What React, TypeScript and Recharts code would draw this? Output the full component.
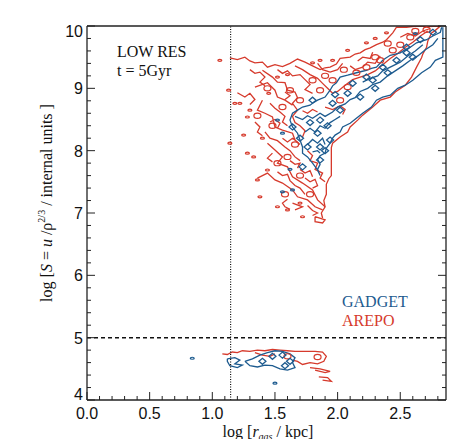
import React from "react";
import {
  ComposedChart,
  Line,
  Scatter,
  XAxis,
  YAxis,
  ReferenceLine,
} from "recharts";

type Pt = [number, number] | null;

// axis ticks (minor + major)
const xTicks = [
  0.0, 0.1, 0.2, 0.3, 0.4, 0.5, 0.6, 0.7, 0.8, 0.9, 1.0, 1.1, 1.2, 1.3, 1.4,
  1.5, 1.6, 1.7, 1.8, 1.9, 2.0, 2.1, 2.2, 2.3, 2.4, 2.5, 2.6, 2.7, 2.8,
];
const yTicks = [
  4.0, 4.2, 4.4, 4.6, 4.8, 5.0, 5.2, 5.4, 5.6, 5.8, 6.0, 6.2, 6.4, 6.6, 6.8,
  7.0, 7.2, 7.4, 7.6, 7.8, 8.0, 8.2, 8.4, 8.6, 8.8, 9.0, 9.2, 9.4, 9.6, 9.8,
  10.0,
];
const xMajor = [0.0, 0.5, 1.0, 1.5, 2.0, 2.5];
const yMajor = [4, 5, 6, 7, 8, 9, 10];

const R_CUT = 1.146; // log 14 kpc
const S_FLOOR = 5;

// AREPO contours, upper branch
const arepoEdge: Pt[] = [
  [1.14, 9.49], [1.2, 9.46], [1.26, 9.5], [1.3, 9.44], [1.34, 9.41], [1.4, 9.42],
  [1.44, 9.34], [1.5, 9.38], [1.56, 9.35], [1.62, 9.4], [1.68, 9.47], [1.74, 9.42],
  [1.8, 9.36], [1.86, 9.3], [1.9, 9.33], [1.94, 9.34], [1.99, 9.39], [2.02, 9.48],
  [2.1, 9.5], [2.14, 9.55], [2.18, 9.57], [2.22, 9.62], [2.26, 9.65], [2.31, 9.7],
  [2.36, 9.74], [2.39, 9.78], [2.44, 9.89], [2.47, 9.98], [2.55, 9.98], [2.63, 10.0],
  [2.72, 9.99], [2.82, 10.0], [2.78, 9.93], [2.75, 9.89], [2.72, 9.76], [2.71, 9.66],
  [2.68, 9.55], [2.67, 9.49], [2.63, 9.34], [2.59, 9.18], [2.54, 9.05], [2.46, 8.94],
  [2.42, 8.86], [2.34, 8.81], [2.28, 8.7], [2.2, 8.57], [2.16, 8.49], [2.1, 8.38],
  [2.08, 8.3], [2.02, 8.22], [1.96, 8.12], [1.95, 8.05], [1.95, 7.6], [1.93, 7.55],
  [1.91, 7.46], [1.91, 7.3], [1.89, 7.2], [1.9, 7.1], [1.87, 7.0], [1.88, 6.92],
];
const arepoInner: Pt[] = [
  [1.4, 9.29], [1.48, 9.18], [1.52, 9.1], [1.58, 9.09], [1.6, 8.97], [1.66, 8.94],
  [1.68, 8.85], [1.64, 8.76], [1.68, 8.65], [1.64, 8.55], [1.66, 8.45], [1.7, 8.4],
  [1.74, 8.32], [1.72, 8.22], null,
  [1.34, 9.02], [1.44, 9.09], [1.5, 8.97], [1.52, 8.86], [1.58, 8.81], [1.64, 8.73], null,
  [1.4, 8.81], [1.36, 8.65], [1.42, 8.6], [1.48, 8.54], [1.5, 8.38], [1.56, 8.33],
  [1.64, 8.28], [1.66, 8.17], [1.7, 8.1], null,
  [1.44, 8.12], [1.5, 8.01], [1.56, 7.9], [1.52, 7.8], [1.6, 7.74], [1.64, 7.58],
  [1.72, 7.48], [1.8, 7.37], [1.84, 7.21], [1.9, 7.1], null,
  [1.36, 7.56], [1.44, 7.64], [1.5, 7.53], [1.56, 7.48], [1.64, 7.37], [1.68, 7.26],
  [1.76, 7.21], [1.82, 7.1], [1.88, 7.05], null,
  [1.82, 6.94], [1.9, 6.89], [1.88, 6.84], [1.82, 6.86], [1.82, 6.94], null,
  [1.64, 7.16], [1.72, 7.1], [1.66, 7.05], null,
  [1.2, 8.93], [1.26, 8.86], [1.3, 8.92], [1.34, 8.82], [1.3, 8.74], null,
  [1.42, 8.3], [1.46, 8.2], [1.52, 8.16], [1.58, 8.06], [1.62, 8.0], [1.66, 7.9],
  [1.7, 7.84], null,
  [1.66, 9.36], [1.72, 9.3], [1.78, 9.22], [1.84, 9.16], [1.88, 9.08], [1.92, 9.0],
  [1.96, 8.92], [2.0, 8.95], [2.06, 9.05], [2.12, 9.14], [2.18, 9.18], [2.24, 9.22],
  [2.3, 9.28], [2.36, 9.38], [2.42, 9.48], [2.48, 9.56], [2.54, 9.66], [2.6, 9.74],
  [2.66, 9.84], [2.72, 9.92], null,
  [1.9, 8.7], [1.96, 8.66], [2.02, 8.72], [2.06, 8.66], [2.04, 8.58], null,
  [1.3, 9.3], [1.34, 9.24], [1.38, 9.26], [1.42, 9.18], [1.38, 9.1], [1.42, 9.04], null,
  [1.52, 9.3], [1.56, 9.24], [1.6, 9.28], [1.64, 9.2], [1.7, 9.22], [1.74, 9.14],
  [1.78, 9.06], [1.74, 8.98], [1.8, 8.92], null,
  [1.46, 8.76], [1.5, 8.68], [1.54, 8.62], [1.58, 8.55], [1.56, 8.46], [1.6, 8.4], null,
  [1.34, 8.46], [1.38, 8.38], [1.36, 8.3], [1.4, 8.24], null,
  [1.52, 7.66], [1.56, 7.6], [1.6, 7.62], [1.62, 7.52], [1.66, 7.44], [1.7, 7.4],
  [1.74, 7.3], null,
  [1.6, 7.22], [1.56, 7.16], [1.58, 7.1], [1.62, 7.06], null,
  [1.76, 8.0], [1.8, 7.92], [1.78, 7.84], [1.84, 7.8], [1.82, 7.7], [1.88, 7.64],
  [1.86, 7.56], [1.9, 7.5], null,
  [1.84, 9.4], [1.88, 9.3], [1.94, 9.26], [2.0, 9.3], [2.04, 9.4], null,
  [2.1, 9.36], [2.14, 9.3], [2.2, 9.34], [2.24, 9.42], [2.3, 9.4], [2.34, 9.52], null,
  [1.72, 8.64], [1.76, 8.6], [1.8, 8.66], [1.84, 8.62], null,
  [1.48, 7.96], [1.44, 7.88], [1.48, 7.82], null,
  [1.7, 7.7], [1.74, 7.64], [1.78, 7.68], [1.8, 7.58], null,
  [2.5, 9.82], [2.56, 9.88], [2.62, 9.84], [2.68, 9.92], [2.74, 9.96], null,
  [1.58, 8.94], [1.62, 8.88], [1.58, 8.82], null,
  [1.46, 8.46], [1.5, 8.5], [1.54, 8.44], [1.52, 8.36], null,
  [1.56, 8.2], [1.6, 8.14], [1.64, 8.2], [1.68, 8.14], null,
  [1.62, 7.84], [1.66, 7.78], [1.7, 7.8], [1.68, 7.72], null,
  [1.74, 7.56], [1.78, 7.5], [1.82, 7.54], [1.84, 7.44], [1.8, 7.4], null,
  [1.76, 7.12], [1.8, 7.04], [1.84, 7.0], [1.8, 6.96], null,
  [2.16, 9.44], [2.2, 9.5], [2.26, 9.48], [2.28, 9.58],
];
const arepoRings: [number, number][] = [
  [1.8, 9.13], [1.96, 9.13], [1.86, 8.97], [2.08, 9.02], [2.23, 9.34], [2.34, 9.45],
  [2.44, 9.61], [2.58, 9.82], [2.71, 9.94], [2.02, 8.81], [1.7, 8.81], [1.62, 8.97],
  [1.9, 9.2], [2.15, 9.25], [2.3, 9.5], [1.56, 8.7], [1.48, 8.4], [1.6, 7.9],
  [1.7, 7.6], [1.52, 7.8], [1.66, 8.1], [1.78, 7.3], [1.44, 9.0], [1.36, 8.56],
  [1.58, 7.3], [2.5, 9.7], [2.62, 9.92], [2.4, 9.72], [2.05, 9.3],
];
const arepoSpecks: [number, number][] = [
  [1.06, 9.45], [1.13, 8.97], [1.14, 8.12], [1.28, 8.54], [1.22, 8.76], [1.28, 7.96],
  [1.36, 7.53], [1.52, 9.18], [1.8, 9.41], [1.86, 9.45], [1.96, 9.45], [2.08, 9.61],
  [2.23, 9.73], [2.39, 9.89], [1.52, 7.1], [1.6, 7.05], [1.72, 6.94], [1.7, 7.16],
  [1.33, 7.9], [1.44, 7.69], [1.38, 7.26], [1.18, 8.76], [1.25, 8.25], [1.4, 8.2],
  [1.3, 8.65], [2.3, 9.8], [1.6, 9.22], [1.45, 8.92],
];

// GADGET contours, upper branch
const gadgetEdge: Pt[] = [
  [2.83, 9.98], [2.82, 9.9], [2.76, 9.84], [2.71, 9.78], [2.66, 9.75], [2.63, 9.73],
  [2.58, 9.66], [2.54, 9.62], [2.5, 9.57], [2.46, 9.55], [2.42, 9.53], [2.38, 9.48],
  [2.36, 9.45], [2.31, 9.34], [2.27, 9.32], [2.23, 9.29], [2.19, 9.27], [2.15, 9.25],
  [2.08, 9.21], [2.02, 9.18], [1.99, 9.09], [1.96, 9.04], [1.94, 8.97], [1.9, 8.86],
  [1.84, 8.81], [1.8, 8.76], [1.78, 8.73], [1.72, 8.7], [1.68, 8.65], [1.64, 8.6],
  [1.62, 8.49], [1.64, 8.38], [1.68, 8.28], [1.7, 8.17], [1.72, 8.06], [1.72, 7.96],
  [1.76, 7.9], [1.8, 7.8], [1.84, 7.69], [1.86, 7.6], null,
  [2.84, 9.98], [2.84, 9.5], [2.78, 9.45], [2.74, 9.34], [2.67, 9.25], [2.6, 9.13],
  [2.54, 9.05], [2.48, 9.0], [2.42, 8.89], [2.36, 8.86], [2.31, 8.81], [2.27, 8.7],
  [2.2, 8.6], [2.15, 8.52], [2.1, 8.44], [2.04, 8.38], [2.02, 8.3], [1.98, 8.25],
  [1.96, 8.2], [1.94, 8.12], [1.91, 8.04], [1.9, 7.96], [1.86, 7.92], [1.84, 7.86],
  [1.86, 7.78], [1.84, 7.7], [1.86, 7.6],
];
const gadgetInner: Pt[] = [
  [1.66, 8.55], [1.72, 8.5], [1.76, 8.56], [1.8, 8.52], [1.86, 8.6], [1.9, 8.55],
  [1.96, 8.62], [2.0, 8.7], [2.06, 8.75], [2.1, 8.82], [2.14, 8.85], [2.18, 8.95],
  [2.24, 9.0], [2.28, 9.06], [2.34, 9.1], [2.4, 9.2], [2.46, 9.28], [2.52, 9.36],
  [2.58, 9.45], [2.64, 9.52], [2.7, 9.62], [2.76, 9.7], [2.8, 9.8], null,
  [1.74, 8.3], [1.78, 8.36], [1.82, 8.3], [1.86, 8.4], [1.9, 8.36], [1.94, 8.45],
  [1.98, 8.5], [2.02, 8.55], null,
  [1.76, 8.1], [1.8, 8.18], [1.84, 8.12], [1.88, 8.2], [1.9, 8.1], null,
  [1.8, 7.98], [1.84, 8.0], [1.86, 7.96], null,
  [2.2, 9.1], [2.26, 9.16], [2.32, 9.2], [2.36, 9.28], [2.44, 9.36], [2.5, 9.42],
  [2.56, 9.52], [2.62, 9.6], [2.68, 9.7],
];
const gadgetDiamonds: [number, number][] = [
  [2.18, 8.86], [2.28, 9.13], [2.47, 9.45], [2.02, 8.65], [1.86, 8.49], [1.84, 8.28],
  [1.94, 8.17], [1.86, 8.06], [1.76, 8.06], [1.86, 7.85], [1.64, 8.38], [1.72, 7.74],
  [1.8, 8.81], [1.96, 8.76], [2.08, 8.92], [2.12, 9.08], [2.23, 9.18], [2.36, 9.34],
  [2.55, 9.57], [2.66, 9.78], [2.55, 9.66], [2.76, 9.9], [1.92, 8.4], [1.78, 8.45],
  [1.98, 8.9], [2.4, 9.25], [2.6, 9.5], [1.7, 8.2], [1.9, 8.0], [2.3, 9.0],
];
const gadgetSpecks: [number, number][] = [
  [1.52, 8.49], [1.56, 8.28], [1.64, 7.37], [1.56, 7.34], [2.62, 9.88], [1.62, 7.7],
];

// lower branch (below the entropy floor)
const arepoLow: Pt[] = [
  [1.08, 4.74], [1.12, 4.73], [1.16, 4.77], [1.2, 4.76], [1.24, 4.79], [1.3, 4.78],
  [1.36, 4.8], [1.42, 4.79], [1.48, 4.81], [1.54, 4.8], [1.6, 4.79], [1.66, 4.78],
  [1.74, 4.78], [1.82, 4.78], [1.88, 4.77], [1.91, 4.7], [1.89, 4.62], [1.84, 4.58],
  [1.78, 4.6], [1.72, 4.57], [1.68, 4.62], [1.64, 4.64], null,
  [1.78, 4.52], [1.86, 4.5], [1.94, 4.46], [1.9, 4.44], [1.82, 4.48], null,
  [1.85, 4.37], [1.92, 4.36], [1.95, 4.3], [1.88, 4.32], null,
  [1.34, 4.76], [1.4, 4.72], [1.46, 4.7], [1.5, 4.74],
];
const arepoLowRings: [number, number][] = [[1.84, 4.69], [1.6, 4.7]];
const gadgetLow: Pt[] = [
  [1.12, 4.66], [1.18, 4.68], [1.22, 4.64], [1.18, 4.58], [1.24, 4.56], [1.2, 4.52],
  [1.14, 4.55], [1.12, 4.62], [1.12, 4.66], null,
  [1.26, 4.62], [1.32, 4.66], [1.38, 4.72], [1.44, 4.76], [1.5, 4.79], [1.56, 4.78],
  [1.62, 4.74], [1.66, 4.68], [1.64, 4.6], [1.66, 4.52], [1.6, 4.48], [1.54, 4.5],
  [1.48, 4.55], [1.42, 4.56], [1.36, 4.53], [1.3, 4.55], [1.26, 4.62],
];
const gadgetLowDiamonds: [number, number][] = [
  [1.48, 4.7], [1.58, 4.55], [1.62, 4.62], [1.4, 4.62], [1.56, 4.72],
];
const gadgetLowSpecks: [number, number][] = [[0.84, 4.67], [1.5, 4.27]];

const RED = "#d63a2c";
const BLUE = "#1d5b8f";
const INK = "#222";

const toRows = (pts: Pt[]) => {
  let lastX = 0;
  return pts.map((p) => {
    if (!p) return { x: lastX, y: null };
    lastX = p[0];
    return { x: p[0], y: p[1] };
  });
};
const toPts = (pts: [number, number][]) => pts.map(([x, y]) => ({ x, y }));

const isMajor = (v: number, list: number[]) =>
  list.some((m) => Math.abs(m - v) < 1e-6);

const SANS = "'Liberation Sans', Arial, sans-serif";
const SERIF = "'Liberation Serif', 'DejaVu Serif', serif";

const BottomTick = (props: any) => {
  const { x, y, payload } = props;
  const major = isMajor(payload.value, xMajor);
  return (
    <g>
      <line x1={x} x2={x} y1={y} y2={y - (major ? 8 : 4)} stroke={INK} strokeWidth={1} />
      {major && (
        <text x={x} y={y + 19} textAnchor="middle" fill="#111" fontFamily={SANS} fontSize={16}>
          {payload.value.toFixed(1)}
        </text>
      )}
    </g>
  );
};
const TopTick = (props: any) => {
  const { x, y, payload } = props;
  const major = isMajor(payload.value, xMajor);
  return <line x1={x} x2={x} y1={y} y2={y + (major ? 8 : 4)} stroke={INK} strokeWidth={1} />;
};
const LeftTick = (props: any) => {
  const { x, y, payload } = props;
  const major = isMajor(payload.value, yMajor);
  // end labels sit just inside the axis span
  const v = Math.round(payload.value);
  const dy = v === 10 ? 11 : v === 4 ? 0 : 6;
  return (
    <g>
      <line x1={x} x2={x + (major ? 8 : 4)} y1={y} y2={y} stroke={INK} strokeWidth={1} />
      {major && (
        <text x={x - 4} y={y + dy} textAnchor="end" fill="#111" fontFamily={SANS} fontSize={16}>
          {String(v)}
        </text>
      )}
    </g>
  );
};
const RightTick = (props: any) => {
  const { x, y, payload } = props;
  const major = isMajor(payload.value, yMajor);
  return <line x1={x} x2={x - (major ? 8 : 4)} y1={y} y2={y} stroke={INK} strokeWidth={1} />;
};

const Diamond = (color: string) => (props: any) => {
  const { cx, cy } = props;
  return (
    <path
      d={`M${cx - 3.5},${cy}L${cx},${cy - 3}L${cx + 3.5},${cy}L${cx},${cy + 3}Z`}
      fill="none"
      stroke={color}
      strokeWidth={1.3}
    />
  );
};
const Ring = (color: string) => (props: any) => (
  <ellipse cx={props.cx} cy={props.cy} rx={3.5} ry={2.6} fill="none" stroke={color} strokeWidth={1.2} />
);
const Speck = (color: string) => (props: any) => (
  <ellipse cx={props.cx} cy={props.cy} rx={2} ry={1} fill="none" stroke={color} strokeWidth={1.2} />
);

export default function App() {
  const line = (data: Pt[], color: string, key: string) => (
    <Line
      key={key}
      data={toRows(data)}
      dataKey="y"
      type="linear"
      stroke={color}
      strokeWidth={1.3}
      dot={false}
      activeDot={false}
      isAnimationActive={false}
      connectNulls={false}
    />
  );

  return (
    <div style={{ position: "relative", width: 463, height: 447, margin: -8, background: "#fff" }}>
      <ComposedChart
        width={463}
        height={447}
        margin={{ top: 25, right: 16, bottom: 46, left: 47 }}
      >
        <XAxis
          dataKey="x"
          type="number"
          domain={[0, 2.865]}
          allowDataOverflow
          ticks={xTicks}
          interval={0}
          height={1}
          tickSize={0}
          tickMargin={0}
          tickLine={false}
          tick={<BottomTick />}
          axisLine={{ stroke: INK, strokeWidth: 1.3 }}
        />
        <XAxis
          xAxisId="top"
          orientation="top"
          type="number"
          domain={[0, 2.865]}
          allowDataOverflow
          ticks={xTicks}
          interval={0}
          height={1}
          tickSize={0}
          tickMargin={0}
          tickLine={false}
          tick={<TopTick />}
          axisLine={{ stroke: INK, strokeWidth: 1.3 }}
        />
        <YAxis
          dataKey="y"
          type="number"
          domain={[4, 10]}
          allowDataOverflow
          ticks={yTicks}
          interval={0}
          width={40}
          tickSize={0}
          tickMargin={0}
          tickLine={false}
          tick={<LeftTick />}
          axisLine={{ stroke: INK, strokeWidth: 1.3 }}
        />
        <YAxis
          yAxisId="right"
          orientation="right"
          type="number"
          domain={[4, 10]}
          allowDataOverflow
          ticks={yTicks}
          interval={0}
          width={1}
          tickSize={0}
          tickMargin={0}
          tickLine={false}
          tick={<RightTick />}
          axisLine={{ stroke: INK, strokeWidth: 1.3 }}
        />

        {line(arepoEdge, RED, "ae")}
        {line(arepoInner, RED, "ai")}
        {line(arepoLow, RED, "al")}
        <Scatter data={toPts(arepoRings)} shape={Ring(RED)} isAnimationActive={false} />
        <Scatter data={toPts(arepoLowRings)} shape={Ring(RED)} isAnimationActive={false} />
        <Scatter data={toPts(arepoSpecks)} shape={Speck(RED)} isAnimationActive={false} />

        {line(gadgetEdge, BLUE, "ge")}
        {line(gadgetInner, BLUE, "gi")}
        {line(gadgetLow, BLUE, "gl")}
        <Scatter data={toPts(gadgetDiamonds)} shape={Diamond(BLUE)} isAnimationActive={false} />
        <Scatter data={toPts(gadgetLowDiamonds)} shape={Diamond(BLUE)} isAnimationActive={false} />
        <Scatter data={toPts(gadgetSpecks)} shape={Speck(BLUE)} isAnimationActive={false} />
        <Scatter data={toPts(gadgetLowSpecks)} shape={Speck(BLUE)} isAnimationActive={false} />

        <ReferenceLine x={R_CUT} stroke="#111" strokeWidth={1.2} strokeDasharray="1 1.5" />
        <ReferenceLine y={S_FLOOR} stroke="#111" strokeWidth={1.5} strokeDasharray="4 3" />
      </ComposedChart>

      <svg
        width={463}
        height={447}
        style={{ position: "absolute", left: 0, top: 0, pointerEvents: "none" }}
      >
        <text x={117} y={57} fontFamily={SERIF} fontSize={16} fill="#111">LOW RES</text>
        <text x={117} y={76} fontFamily={SERIF} fontSize={16} fill="#111">t = 5Gyr</text>
        <text x={268} y={437} textAnchor="middle" fontFamily={SERIF} fontSize={16} fill="#111">
          log [<tspan fontStyle="italic">r</tspan>
          <tspan fontSize={10} fontStyle="italic" dy={3}>gas</tspan>
          <tspan dy={-3}> / kpc]</tspan>
        </text>
        <text
          x={0}
          y={0}
          textAnchor="middle"
          transform="translate(52,203) rotate(-90)"
          fontFamily={SERIF}
          fontSize={16}
          fill="#111"
        >
          log [<tspan fontStyle="italic">S</tspan> = <tspan fontStyle="italic">u</tspan> /ρ
          <tspan fontSize={10} dy={-7}>2/3</tspan>
          <tspan dy={7}> / internal units ]</tspan>
        </text>
        <text x={342} y={307} fontFamily={SERIF} fontSize={16} fill={BLUE}>GADGET</text>
        <text x={342} y={326} fontFamily={SERIF} fontSize={16} fill={RED}>AREPO</text>
      </svg>
    </div>
  );
}
